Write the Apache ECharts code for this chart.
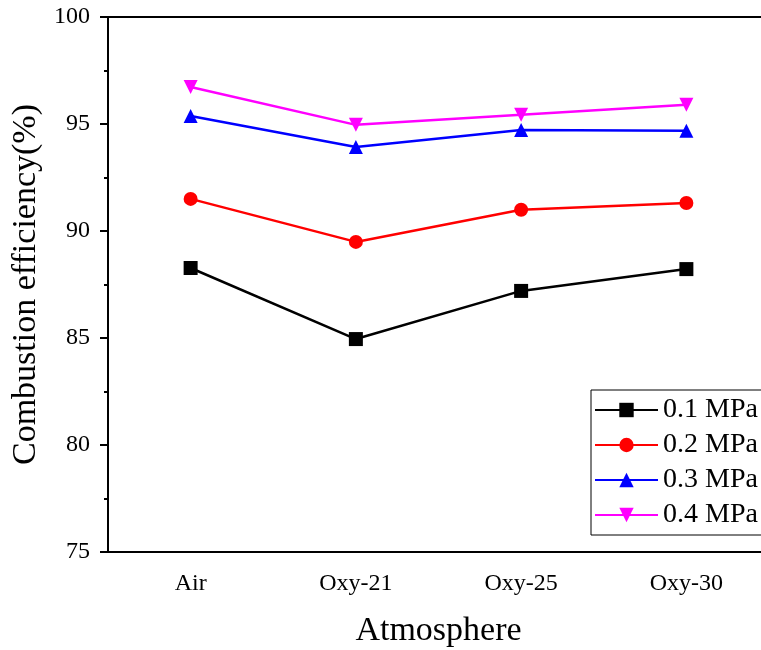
<!DOCTYPE html>
<html>
<head>
<meta charset="utf-8">
<script src="https://cdn.jsdelivr.net/npm/echarts@6/dist/echarts.min.js"></script>
<style>
  html, body { margin: 0; padding: 0; background: #fff; }
  #chart { width: 761px; height: 650px; }
</style>
</head>
<body>
<div id="chart"></div>
<script>
// categories and values
var atmospheres = ['Air', 'Oxy-21', 'Oxy-25', 'Oxy-30'];
var p01 = [88.27, 84.95, 87.2, 88.22];
var p02 = [91.5, 89.49, 90.99, 91.31];
var p03 = [95.37, 93.93, 94.72, 94.68];
var p04 = [96.73, 94.96, 95.43, 95.9];

var font = 'Liberation Serif';

function line(name, data, color, symbol, rotate) {
  return {
    name: name,
    type: 'line',
    data: data,
    symbol: symbol,
    symbolSize: 14,
    symbolRotate: rotate || 0,
    itemStyle: { color: color },
    lineStyle: { color: color, width: 2.5 },
    animation: false
  };
}

var myChart = echarts.init(document.getElementById('chart'));
myChart.setOption({
  backgroundColor: '#fff',
  grid: { left: 108, top: 17, right: -8, bottom: 98, outerBoundsMode: 'none', containLabel: false },
  legend: {
    orient: 'vertical',
    left: 591,
    top: 390,
    padding: [6, 20, 6, 3],
    itemWidth: 63,
    itemHeight: 18,
    itemGap: 7,
    borderColor: '#000',
    borderWidth: 1,
    backgroundColor: '#fff',
    textStyle: { fontFamily: font, fontSize: 28, color: '#000' },
    data: ['0.1 MPa', '0.2 MPa', '0.3 MPa', '0.4 MPa']
  },
  xAxis: [{
    type: 'category',
    data: atmospheres,
    name: 'Atmosphere',
    nameLocation: 'middle',
    nameGap: 62,
    nameTextStyle: { fontFamily: font, fontSize: 34, color: '#000' },
    axisLine: { lineStyle: { color: '#000', width: 2 } },
    axisTick: { alignWithLabel: true, length: 8, lineStyle: { color: '#000', width: 2 } },
    axisLabel: { fontFamily: font, fontSize: 24, color: '#000', margin: 20 },
    splitLine: { show: false }
  }, {
    type: 'category',
    data: atmospheres,
    position: 'top',
    axisLine: { lineStyle: { color: '#000', width: 2 } },
    axisTick: { show: false },
    axisLabel: { show: false }
  }],
  yAxis: [{
    type: 'value',
    min: 75,
    max: 100,
    interval: 5,
    name: 'Combustion efficiency(%)',
    nameLocation: 'middle',
    nameGap: 60,
    nameTextStyle: { fontFamily: font, fontSize: 34, color: '#000' },
    axisLine: { show: true, lineStyle: { color: '#000', width: 2 } },
    axisTick: { show: true, length: 8, lineStyle: { color: '#000', width: 2 } },
    minorTick: { show: true, splitNumber: 2, length: 4, lineStyle: { color: '#000', width: 2 } },
    axisLabel: { fontFamily: font, fontSize: 24, color: '#000', margin: 18 },
    splitLine: { show: false }
  }, {
    type: 'value',
    min: 75,
    max: 100,
    position: 'right',
    axisLine: { show: true, lineStyle: { color: '#000', width: 2 } },
    axisTick: { show: false },
    axisLabel: { show: false },
    splitLine: { show: false }
  }],
  series: [
    line('0.1 MPa', p01, '#000000', 'rect'),
    line('0.2 MPa', p02, '#ff0000', 'circle'),
    line('0.3 MPa', p03, '#0000ff', 'triangle'),
    line('0.4 MPa', p04, '#ff00ff', 'triangle', 180)
  ]
});
</script>
</body>
</html>
